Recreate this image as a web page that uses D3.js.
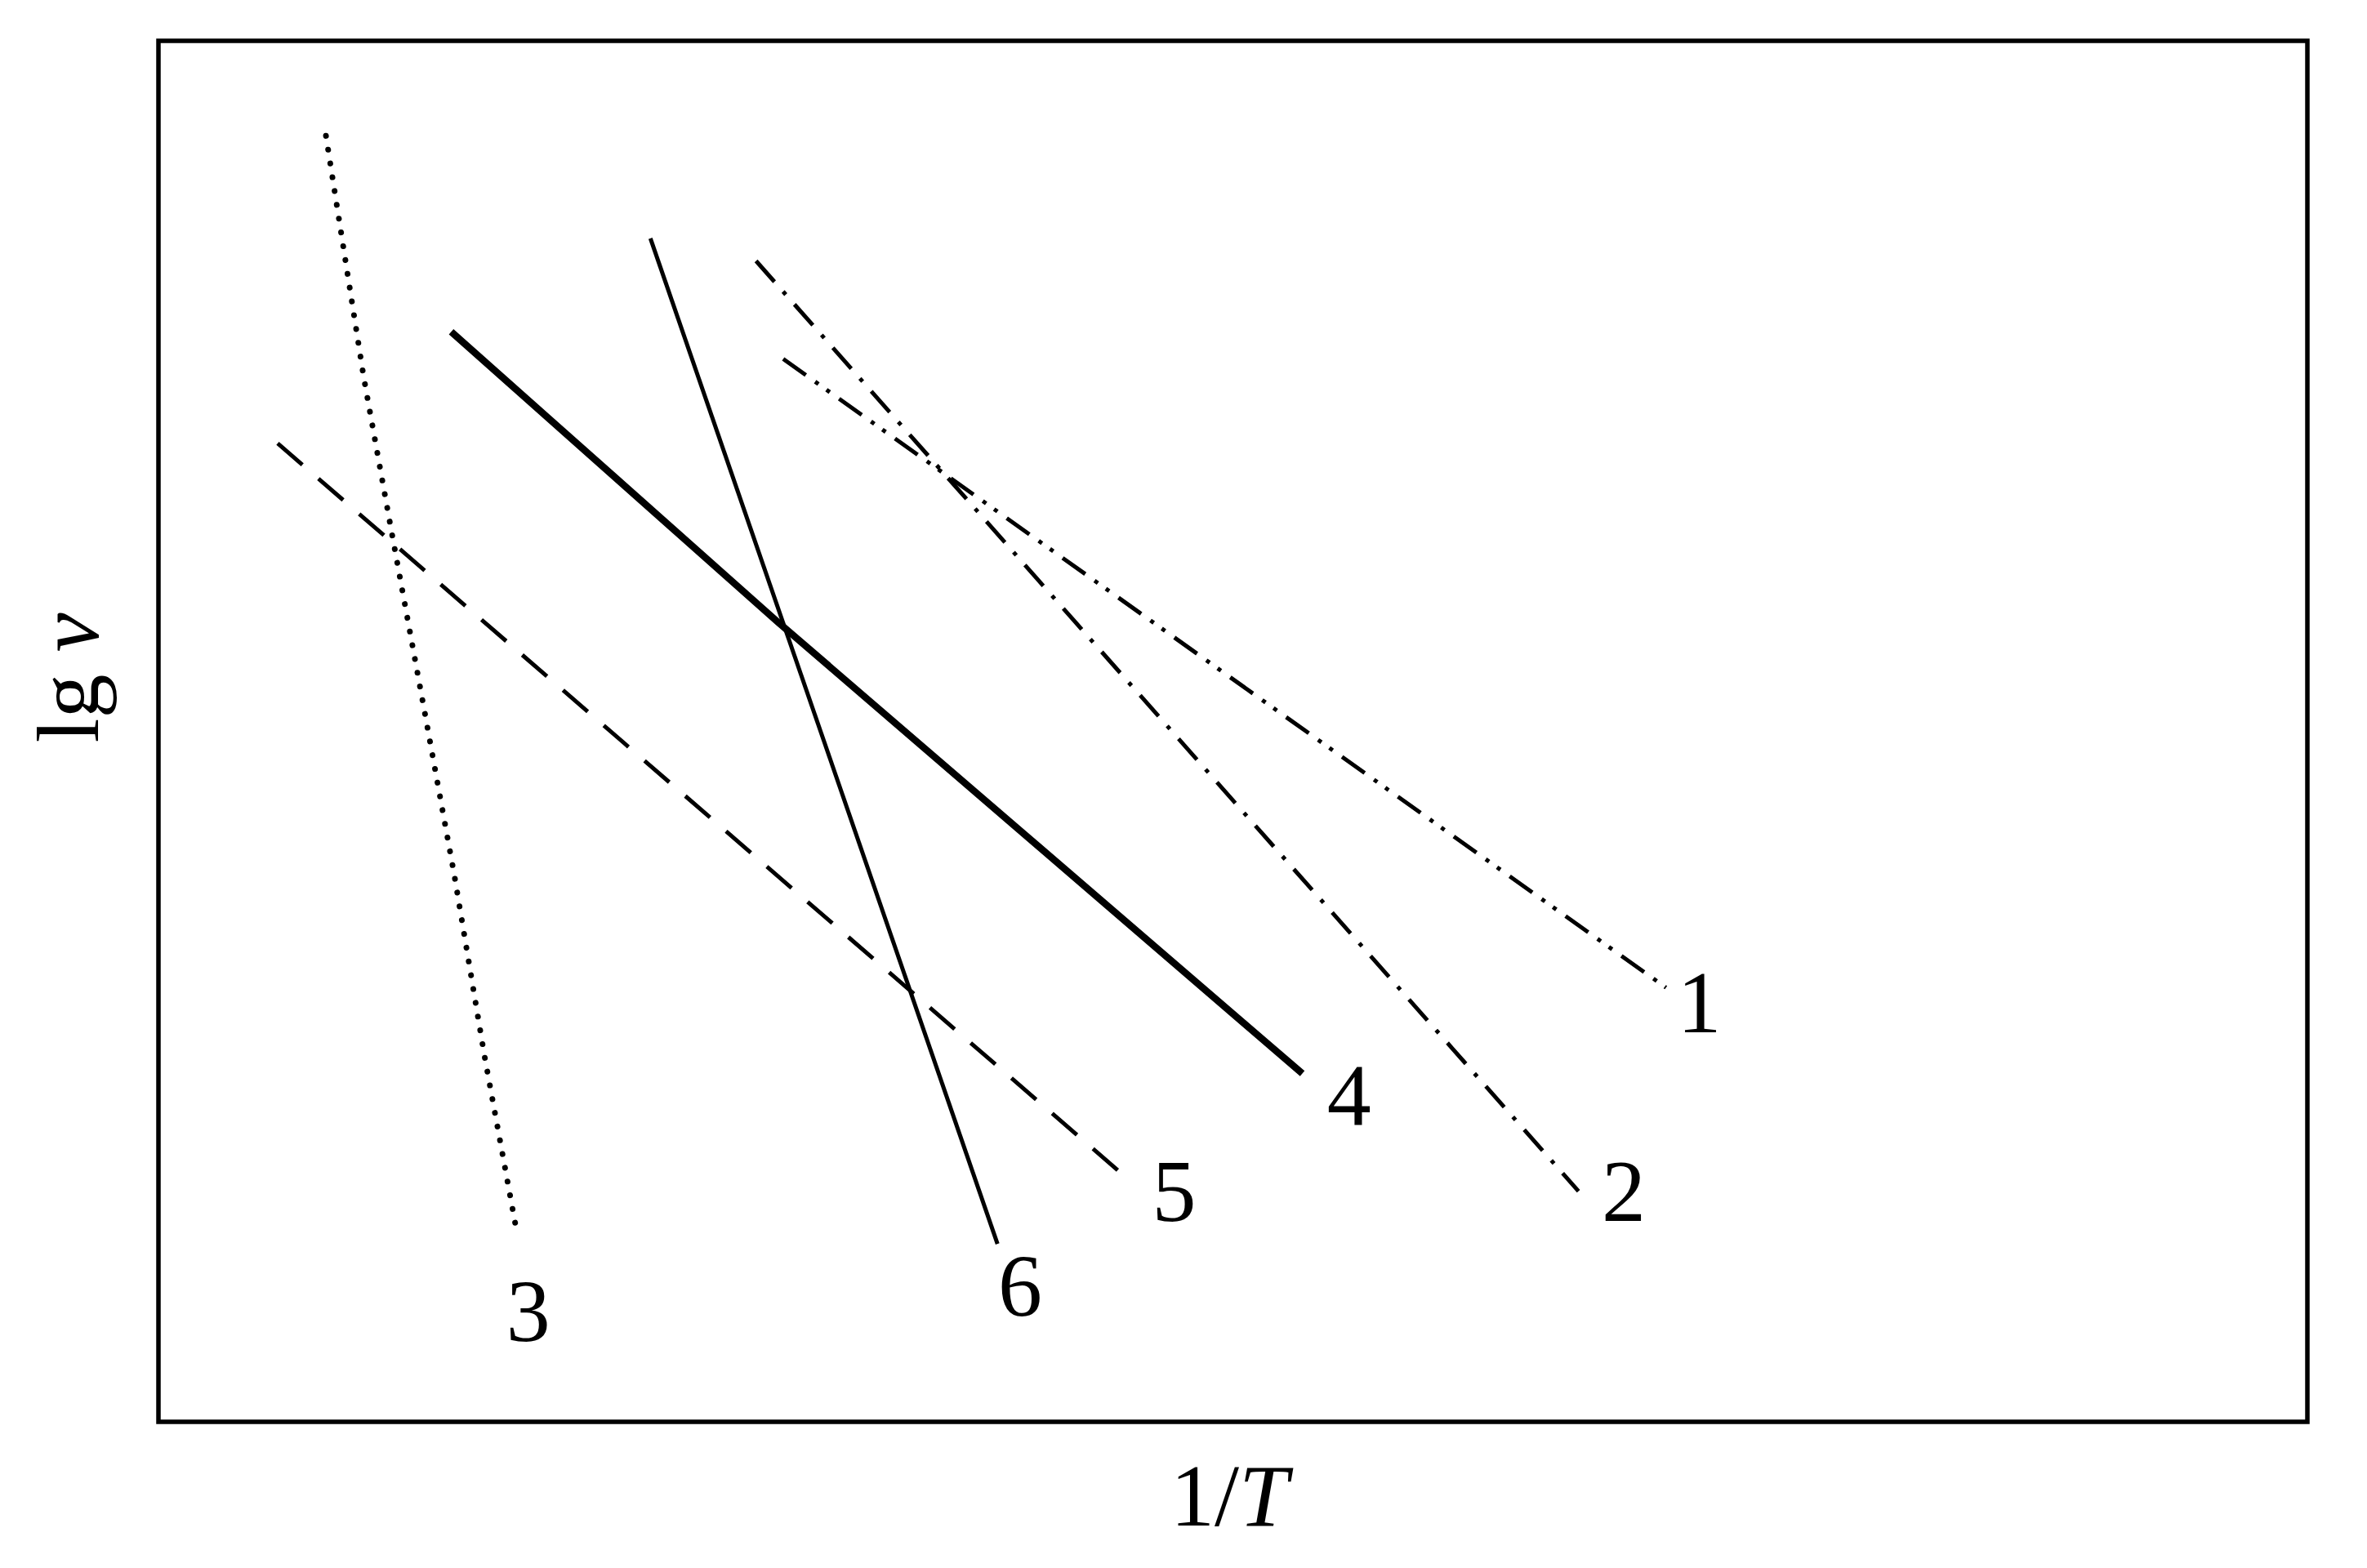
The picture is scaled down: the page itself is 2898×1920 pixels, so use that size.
<!DOCTYPE html>
<html><head><meta charset="utf-8">
<script src="https://cdn.jsdelivr.net/npm/d3@7"></script>
<style>body{margin:0;background:#fff}</style>
</head><body>
<svg width="2898" height="1920"></svg>
<script>
// arbitrary units: x = 1/T, y = lg v
const curveNames = ["1", "2", "3", "4", "5", "6"];
const line1 = [[414, 705], [999, 288]];
const line2 = [[396, 770], [941, 153]];
const line3 = [[111, 853], [136, 693], [154, 593], [176, 473], [196, 363], [216, 243], [238, 123]];
const line4 = [[194, 723], [411, 530], [758, 231]];
const line5 = [[79, 649], [646, 158]];
const line6 = [[326, 785], [556, 118]];
const labelPos = [[1021, 278], [971, 153], [245, 73], [789, 216], [673, 153], [571, 90]];

const svg = d3.select("svg");
const x = d3.scaleLinear().domain([0, 1424]).range([194, 2825]);
const y = d3.scaleLinear().domain([0, 916]).range([1741, 50]);
const line = d3.line().x(d => x(d[0])).y(d => y(d[1]));

const styles = [
  {data: line1, w: 5, dash: "34,14,5,12,5,14"},
  {data: line2, w: 5, dash: "34,16,5,16"},
  {data: line3, w: 7, dash: "0.1,17", cap: "round"},
  {data: line4, w: 8.5, dash: null},
  {data: line5, w: 5, dash: "40,26"},
  {data: line6, w: 5, dash: null}
];

svg.selectAll("path.curve").data(styles).join("path")
  .attr("class", "curve")
  .attr("d", d => line(d.data))
  .attr("fill", "none").attr("stroke", "#000")
  .attr("stroke-width", d => d.w)
  .attr("stroke-dasharray", d => d.dash)
  .attr("stroke-linecap", d => d.cap || "butt");

svg.append("rect").attr("x", 194).attr("y", 50).attr("width", 2631).attr("height", 1691)
  .attr("fill", "none").attr("stroke", "#000").attr("stroke-width", 5.5);

svg.selectAll("text.lab").data(curveNames).join("text")
  .attr("class", "lab")
  .attr("x", (d, i) => x(labelPos[i][0])).attr("y", (d, i) => y(labelPos[i][1]) + 36)
  .attr("text-anchor", "middle")
  .attr("font-family", "Liberation Serif").attr("font-size", 108)
  .text(d => d);

const xl = svg.append("text").attr("x", 1505).attr("y", 1868).attr("text-anchor", "middle")
  .attr("font-family", "Liberation Serif").attr("font-size", 108);
xl.append("tspan").text("1/");
xl.append("tspan").attr("font-style", "italic").text("T");

const yl = svg.append("text").attr("transform", "translate(120,830) rotate(-90)")
  .attr("text-anchor", "middle")
  .attr("font-family", "Liberation Serif").attr("font-size", 108);
yl.append("tspan").text("lg ");
yl.append("tspan").attr("font-style", "italic").text("v");
</script>
</body></html>
